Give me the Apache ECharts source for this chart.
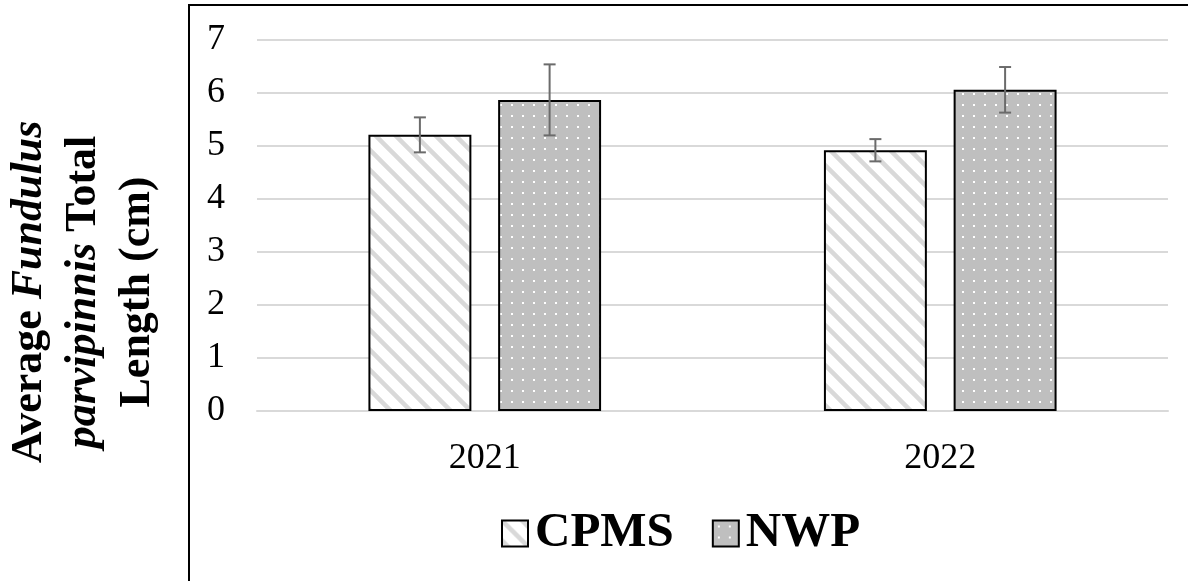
<!DOCTYPE html>
<html>
<head>
<meta charset="utf-8">
<script src="https://cdn.jsdelivr.net/npm/echarts@6/dist/echarts.min.js"></script>
<style>
	html, body { margin: 0; padding: 0; background: #fff; }
	#chart { width: 1188px; height: 581px; }
</style>
</head>
<body>
<div id="chart"></div>
<script>
// data
var years = ['2021', '2022'];
var seriesNames = ['CPMS', 'NWP'];
var cpmsMean = [5.21, 4.92];
var cpmsErr = [0.33, 0.21];
var nwpMean = [5.87, 6.06];
var nwpErr = [0.67, 0.43];
var yTicks = [0, 7, 1]; // min, max, step

var FONT = 'Liberation Serif';
var BAR_W = 0.226; // share of a category band
var BAR_GAP = 0.26; // share of a bar width

// hatch fill for CPMS
function makeStripes() {
	var c = document.createElement('canvas');
	c.width = 20;
	c.height = 20;
	var ctx = c.getContext('2d');
	ctx.fillStyle = '#ffffff';
	ctx.fillRect(0, 0, 20, 20);
	ctx.strokeStyle = '#d9d9d9';
	ctx.lineWidth = 4.5;
	ctx.beginPath();
	ctx.moveTo(-5, -5);
	ctx.lineTo(25, 25);
	ctx.moveTo(-15, 5);
	ctx.lineTo(5, 25);
	ctx.moveTo(5, -15);
	ctx.lineTo(25, 5);
	ctx.stroke();
	return c;
}

// dotted fill for NWP
function makeDots() {
	var c = document.createElement('canvas');
	c.width = 11;
	c.height = 11;
	var ctx = c.getContext('2d');
	ctx.fillStyle = '#bfbfbf';
	ctx.fillRect(0, 0, 11, 11);
	ctx.fillStyle = '#ffffff';
	ctx.fillRect(5, 5, 2, 2);
	return c;
}

var stripeFill = { image: makeStripes(), repeat: 'repeat' };
var dotFill = { image: makeDots(), repeat: 'repeat' };

function errData(mean, err) {
	var out = [];
	for (var i = 0; i < mean.length; i++) {
		out.push([i, mean[i] - err[i], mean[i] + err[i]]);
	}
	return out;
}

// side: -1 left bar, +1 right bar
function errRenderer(side) {
	return function (params, api) {
		var band = api.size([1, 0])[0];
		var off = side * band * BAR_W * (1 + BAR_GAP) / 2;
		var lo = api.coord([api.value(0), api.value(1)]);
		var hi = api.coord([api.value(0), api.value(2)]);
		var x = lo[0] + off;
		var cap = 6;
		var st = { stroke: '#6b6b6b', lineWidth: 2 };
		return {
			type: 'group',
			children: [
				{ type: 'line', shape: { x1: x, y1: lo[1], x2: x, y2: hi[1] }, style: st },
				{ type: 'line', shape: { x1: x - cap, y1: lo[1], x2: x + cap, y2: lo[1] }, style: st },
				{ type: 'line', shape: { x1: x - cap, y1: hi[1], x2: x + cap, y2: hi[1] }, style: st }
			]
		};
	};
}

var myChart = echarts.init(document.getElementById('chart'));
myChart.setOption({
	animation: false,
	backgroundColor: '#ffffff',
	grid: {
		left: 257,
		right: 20,
		top: 40,
		bottom: 170
	},
	legend: {
		left: 496,
		top: 504,
		itemWidth: 26,
		itemHeight: 26,
		itemGap: 38,
		icon: 'rect',
		data: seriesNames,
		textStyle: {
			fontFamily: FONT,
			fontSize: 49,
			fontWeight: 'bold',
			color: '#000000',
			padding: [0, 0, 0, 2]
		}
	},
	graphic: [{
		type: 'rect',
		shape: { x: 189, y: 5, width: 1100, height: 700 },
		style: { fill: 'none', stroke: '#000000', lineWidth: 2 },
		silent: true
	}, {
		type: 'text',
		x: 84,
		y: 292,
		rotation: Math.PI / 2,
		style: {
			text: '{b|Average }{i|Fundulus}\n{i|parvipinnis}{b| Total}\n{b|Length (cm)}',
			align: 'center',
			verticalAlign: 'middle',
			fill: '#000000',
			rich: {
				b: { fontFamily: FONT, fontSize: 44, fontWeight: 'bold', lineHeight: 54, fill: '#000000' },
				i: { fontFamily: FONT, fontSize: 44, fontWeight: 'bold', fontStyle: 'italic', lineHeight: 54, fill: '#000000' }
			}
		}
	}],
	xAxis: {
		type: 'category',
		data: years,
		axisTick: { show: false },
		axisLine: { lineStyle: { color: '#d9d9d9', width: 2 } },
		axisLabel: {
			fontFamily: FONT,
			fontSize: 36,
			color: '#000000',
			margin: 30
		}
	},
	yAxis: {
		type: 'value',
		min: yTicks[0],
		max: yTicks[1],
		interval: yTicks[2],
		axisLine: { show: false },
		axisTick: { show: false },
		axisLabel: {
			fontFamily: FONT,
			fontSize: 36,
			color: '#000000',
			margin: 32
		},
		splitLine: { lineStyle: { color: '#d9d9d9', width: 2 } }
	},
	series: [{
		name: seriesNames[0],
		type: 'bar',
		data: cpmsMean,
		barWidth: (BAR_W * 100) + '%',
		barGap: (BAR_GAP * 100) + '%',
		itemStyle: { color: stripeFill, borderColor: '#000000', borderWidth: 2 }
	}, {
		name: seriesNames[1],
		type: 'bar',
		data: nwpMean,
		barWidth: (BAR_W * 100) + '%',
		barGap: (BAR_GAP * 100) + '%',
		itemStyle: { color: dotFill, borderColor: '#000000', borderWidth: 2 }
	}, {
		type: 'custom',
		name: 'cpmsErr',
		data: errData(cpmsMean, cpmsErr),
		renderItem: errRenderer(-1),
		z: 5,
		silent: true
	}, {
		type: 'custom',
		name: 'nwpErr',
		data: errData(nwpMean, nwpErr),
		renderItem: errRenderer(1),
		z: 5,
		silent: true
	}]
});
</script>
</body>
</html>
